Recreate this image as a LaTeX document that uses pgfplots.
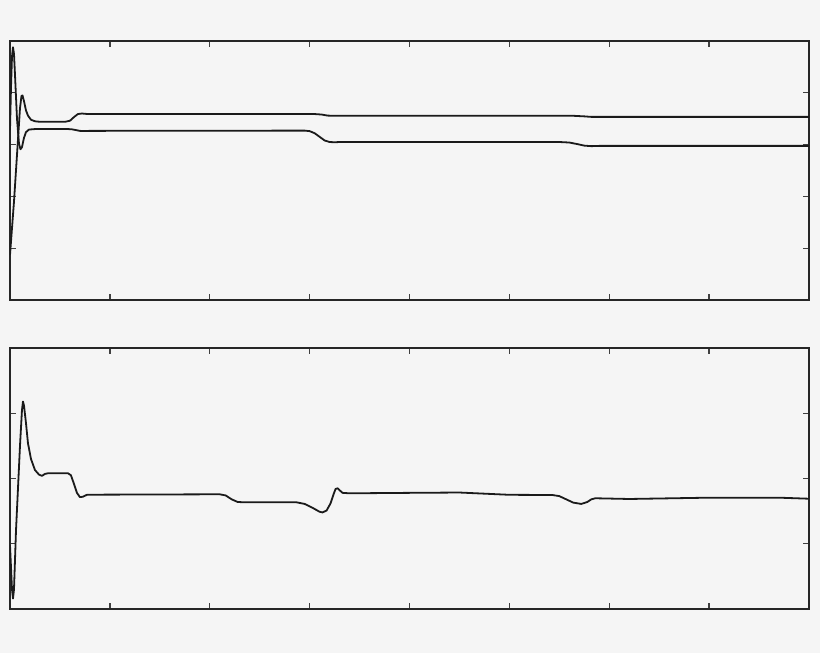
\documentclass[border=0pt]{standalone}
\usepackage{pgfplots}
\pgfplotsset{compat=1.18}
\definecolor{bgc}{RGB}{245,245,245}
\definecolor{linec}{RGB}{26,26,26}

\pgfplotsset{
  panel/.style={
    scale only axis,
    width=799pt,
    xmin=0, xmax=8,
    xtick={1,...,7},
    xticklabels={}, yticklabels={},
    tick pos=both,
    tick align=inside,
    major tick length=6pt,
    axis line style={line width=1.3pt, draw=black!85},
    every tick/.style={line width=1.3pt, draw=black!75},
    axis background/.style={fill=bgc},
  },
  curve/.style={linec, line width=1.8pt, line join=round, no markers},
}

\begin{document}
\begin{tikzpicture}[x=1pt,y=1pt]
\fill[bgc] (0,0) rectangle (820,653);
\path[use as bounding box] (0,0) rectangle (820,653);

% upper panel
\begin{axis}[panel, at={(10pt,353pt)}, anchor=south west, height=259pt,
  ymin=0, ymax=5, ytick={1,2,3,4}]
  \addplot[curve] coordinates {
    (0,3.28) (0.01,4.1) (0.02,4.7) (0.03,4.88) (0.04,4.75) (0.05,4.35)
    (0.07,3.5) (0.09,3.02) (0.105,2.91) (0.12,2.95) (0.14,3.13) (0.16,3.24)
    (0.19,3.29) (0.25,3.30) (0.58,3.30) (0.62,3.295) (0.66,3.28) (0.70,3.265)
    (0.74,3.262) (0.8,3.265) (2.95,3.27) (3.0,3.26) (3.05,3.22) (3.1,3.15)
    (3.15,3.08) (3.2,3.05) (3.25,3.045) (3.3,3.05) (5.5,3.05) (5.6,3.04)
    (5.68,3.01) (5.75,2.98) (5.82,2.97) (5.9,2.975) (8,2.975)
  };
  \addplot[curve] coordinates {
    (0,0.87) (0.04,1.9) (0.08,3.1) (0.1,3.7) (0.115,3.94) (0.125,3.95)
    (0.14,3.84) (0.16,3.66) (0.18,3.56) (0.21,3.48) (0.25,3.45) (0.3,3.44)
    (0.55,3.44) (0.6,3.46) (0.64,3.53) (0.68,3.59) (0.72,3.60) (0.78,3.59)
    (3.05,3.59) (3.12,3.58) (3.18,3.56) (3.25,3.555) (5.65,3.555)
    (5.75,3.545) (5.82,3.535) (8,3.535)
  };
\end{axis}

% lower panel
\begin{axis}[panel, at={(10pt,44pt)}, anchor=south west, height=261pt,
  ymin=0, ymax=4, ytick={1,2,3}]
  \addplot[curve] coordinates {
    (0,0.98) (0.02,0.3) (0.03,0.16) (0.04,0.3) (0.06,1.2) (0.1,2.5)
    (0.12,3.05) (0.13,3.18) (0.14,3.12) (0.16,2.85) (0.18,2.54) (0.21,2.3)
    (0.25,2.13) (0.29,2.06) (0.32,2.04) (0.35,2.07) (0.38,2.08) (0.58,2.08)
    (0.61,2.05) (0.64,1.92) (0.67,1.78) (0.70,1.715) (0.73,1.72) (0.77,1.75)
    (0.85,1.752) (2.1,1.758) (2.16,1.74) (2.22,1.68) (2.28,1.64) (2.35,1.635)
    (2.87,1.635) (2.95,1.61) (3.03,1.55) (3.1,1.49) (3.13,1.48) (3.17,1.51)
    (3.21,1.62) (3.24,1.76) (3.26,1.84) (3.28,1.85) (3.30,1.82) (3.33,1.78)
    (3.4,1.773) (4.0,1.78) (4.5,1.785) (5.0,1.75) (5.43,1.747) (5.5,1.73)
    (5.57,1.68) (5.64,1.63) (5.72,1.61) (5.78,1.64) (5.82,1.68) (5.86,1.697)
    (6.2,1.686) (7.0,1.706) (7.7,1.706) (8,1.69)
  };
\end{axis}
\end{tikzpicture}
\end{document}
